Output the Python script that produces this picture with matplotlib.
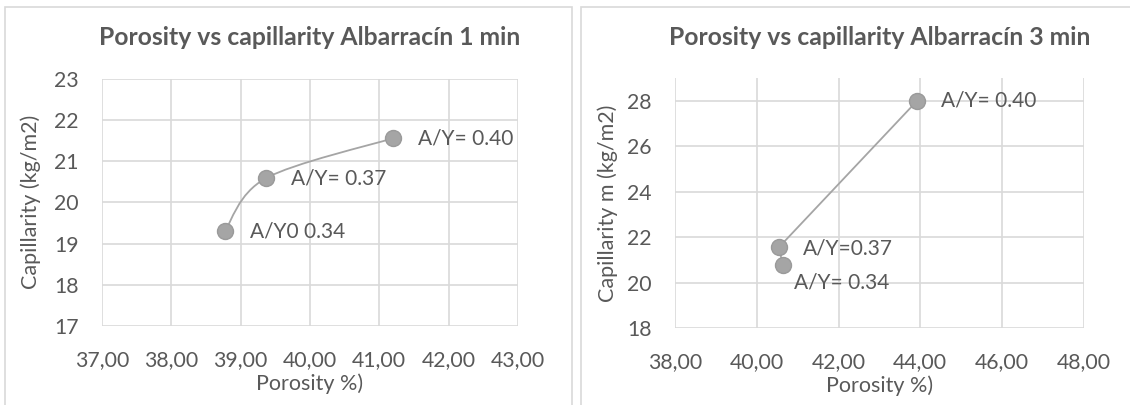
import numpy as np
import matplotlib.pyplot as plt
from matplotlib.path import Path
from matplotlib.patches import PathPatch, Rectangle
from matplotlib.ticker import FuncFormatter

plt.rcParams['font.family'] = ['Lato', 'DejaVu Sans']

# datos 1 min
x1 = [38.77, 39.36, 41.19]
y1 = [19.30, 20.58, 21.55]
lab1 = ['A/Y0 0.34', 'A/Y= 0.37', 'A/Y= 0.40']
# datos 3 min
x3 = [40.64, 40.54, 43.92]
y3 = [20.76, 21.55, 28.00]
lab3 = ['A/Y= 0.34', 'A/Y=0.37', 'A/Y= 0.40']

txt = '#595959'
grid = '#d9d9d9'
gris = '#a5a5a5'


# curva suavizada tipo excel (bezier)
def smooth_path(xs, ys):
    p = np.column_stack([xs, ys])
    n = len(p)
    verts = [p[0]]
    codes = [Path.MOVETO]
    for i in range(n - 1):
        p0 = p[max(i - 1, 0)]
        p3 = p[min(i + 2, n - 1)]
        c1 = p[i] + (p[i + 1] - p0) / 6
        c2 = p[i + 1] - (p3 - p[i]) / 6
        verts += [c1, c2, p[i + 1]]
        codes += [Path.CURVE4] * 3
    return Path(verts, codes)


def estilo(ax, xlim, ylim, xt, yt, titulo, ylab, ypad):
    ax.set_xlim(xlim)
    ax.set_ylim(ylim)
    ax.set_xticks(xt)
    ax.set_yticks(yt)
    ax.xaxis.set_major_formatter(FuncFormatter(lambda v, p: ('%.2f' % v).replace('.', ',')))
    ax.grid(True, color=grid, linewidth=1.2)
    ax.set_axisbelow(True)
    for s in ax.spines.values():
        s.set_visible(False)
    ax.tick_params(length=0, labelsize=15.3, colors=txt)
    ax.tick_params(axis='x', pad=17)
    ax.tick_params(axis='y', pad=17)
    ax.set_xlabel('Porosity %)', fontsize=15.5, color=txt, labelpad=3)
    ax.set_ylabel(ylab, fontsize=15.5, color=txt, labelpad=ypad)
    ax.set_title(titulo, fontsize=17.8, fontweight='bold', color=txt, pad=24)


fig = plt.figure(figsize=(11.3, 4.05), dpi=100)
# marcos de los graficos
fig.patches.append(Rectangle((5 / 1130, -0.1), 567 / 1130, 1.1 - 7 / 405, transform=fig.transFigure,
                             fill=False, edgecolor=grid, linewidth=1.2))
fig.patches.append(Rectangle((581 / 1130, -0.1), 0.6, 1.1 - 7 / 405, transform=fig.transFigure,
                             fill=False, edgecolor=grid, linewidth=1.2))

ax1 = fig.add_axes([0.0903, 0.195, 0.3681, 0.611])
estilo(ax1, (37, 43), (17, 23), np.arange(37, 43.1, 1), np.arange(17, 23.1, 1),
       'Porosity vs capillarity Albarracín 1 min', 'Capillarity (kg/m2)', 9.5)
ax1.add_patch(PathPatch(smooth_path(x1, y1), facecolor='none', edgecolor=gris, linewidth=1.3, zorder=3))
ax1.plot(x1, y1, 'o', color=gris, markeredgecolor='#9a9a9a', markersize=11.5, zorder=4, clip_on=False)
for x, y, l in zip(x1, y1, lab1):
    ax1.annotate(l, (x, y), xytext=(25, 0), textcoords='offset pixels', va='center', ha='left',
                 fontsize=15, color=txt)

ax2 = fig.add_axes([0.5973, 0.190, 0.3619, 0.617])
estilo(ax2, (38, 48), (18, 29), np.arange(38, 48.1, 2), np.arange(18, 28.1, 2),
       'Porosity vs capillarity Albarracín 3 min', 'Capillarity m (kg/m2)', 6)
ax2.plot(x3, y3, '-', color=gris, linewidth=1.3, zorder=3)
ax2.plot(x3, y3, 'o', color=gris, markeredgecolor='#9a9a9a', markersize=11.5, zorder=4, clip_on=False)
offs = [(11, -17), (24, -1), (24, 0)]
for x, y, l, o in zip(x3, y3, lab3, offs):
    ax2.annotate(l, (x, y), xytext=o, textcoords='offset pixels', va='center', ha='left',
                 fontsize=15, color=txt)

fig.savefig('out.png', dpi=100)
